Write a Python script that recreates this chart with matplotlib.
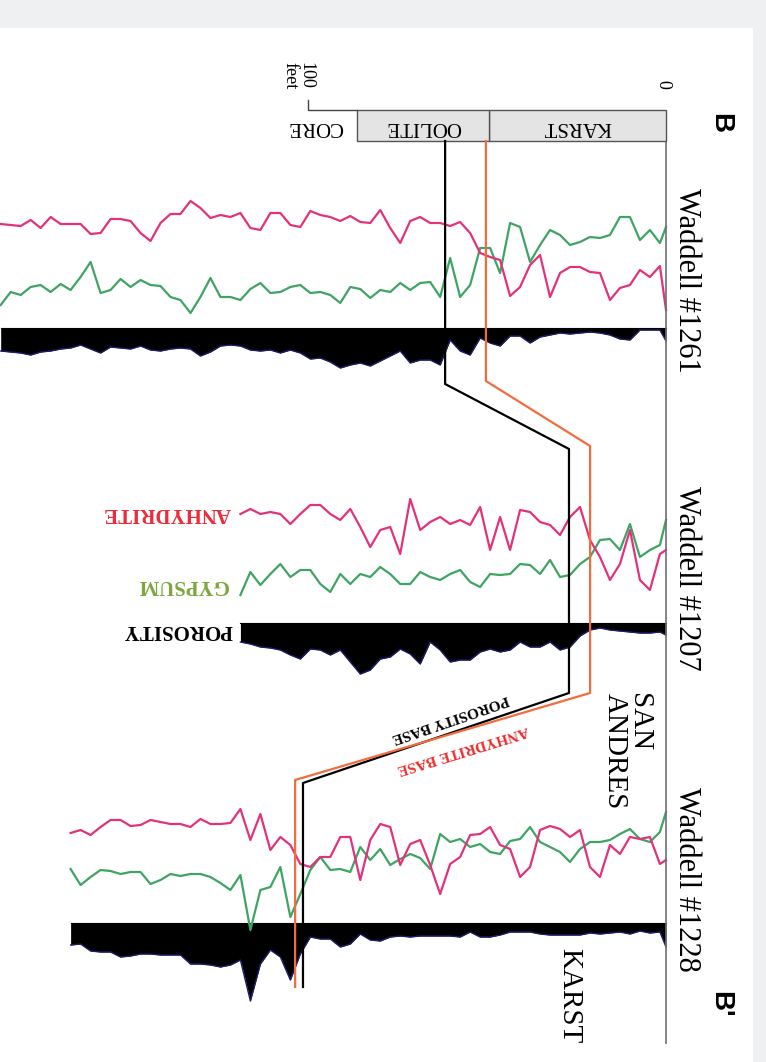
"""Waddell cross section B-B' (rotated log display)"""
import numpy as np
import matplotlib
matplotlib.use("Agg")
import matplotlib.pyplot as plt
from matplotlib.patches import Rectangle

# ---- data ---------------------------------------------------------------
# log samples, shallow -> deep; first sample at 0 ft, then every DEPTH_STEP ft
FIRST_DEPTH = 1.7
DEPTH_STEP = 2.79

WELLS = ["Waddell #1261", "Waddell #1207", "Waddell #1228"]

ANH_1261 = [18, 62, 51, 58, 43, 40, 28, 55, 56, 61, 61, 55, 31, 73, 63, 41, 32, 68, 71, 75,
            95, 106, 102, 105, 105, 111, 107, 85, 100, 118, 105, 106, 112, 107, 111, 113, 117,
            101, 103, 115, 115, 98, 100, 115, 111, 113, 110, 120, 127, 114, 114, 105, 87, 95,
            107, 109, 109, 95, 94, 104, 104, 104, 111, 100, 108, 102, 103, 104]
GYP_1261 = [101, 85, 98, 88, 111, 111, 93, 90, 91, 86, 83, 93, 98, 83, 66, 101, 105, 55, 80, 80,
            43, 31, 70, 31, 46, 45, 38, 45, 36, 38, 30, 39, 41, 25, 33, 36, 35, 43, 41, 36, 35,
            45, 39, 28, 31, 31, 50, 31, 15, 28, 31, 42, 43, 48, 41, 49, 38, 35, 66, 51, 38, 44,
            36, 43, 41, 33, 36, 23]
POR_1261 = [13, 2, 2, 2, 12, 11, 7, 5, 4, 5, 6, 5, 7, 9, 15, 8, 8, 18, 15, 10, 27, 23, 12, 37,
            32, 32, 35, 23, 28, 33, 38, 35, 37, 40, 34, 30, 31, 25, 22, 25, 22, 23, 22, 18, 17,
            18, 24, 28, 21, 20, 21, 23, 22, 18, 21, 20, 19, 25, 21, 17, 20, 21, 23, 24, 27, 25,
            24, 23]

ANH_1207 = [73, 69, 33, 43, 93, 59, 43, 66, 83, 116, 106, 88, 98, 101, 111, 113, 73, 106, 73,
            116, 98, 103, 99, 106, 101, 93, 124, 69, 96, 93, 76, 96, 114, 103, 109, 118, 118,
            109, 99, 109, 111, 109, 114, 109]
GYP_1207 = [103, 78, 73, 66, 99, 73, 84, 83, 66, 59, 48, 46, 63, 49, 58, 59, 49, 48, 49, 36,
            41, 53, 49, 43, 46, 51, 39, 39, 49, 56, 46, 49, 39, 49, 31, 39, 53, 53, 46, 59, 49,
            38, 51, 28]
POR_1207 = [12, 9, 10, 10, 9, 8, 7, 5, 7, 13, 24, 27, 19, 24, 24, 19, 27, 29, 26, 29, 37, 37,
            39, 27, 19, 41, 31, 26, 34, 36, 47, 51, 39, 27, 32, 27, 26, 36, 32, 27, 25, 24, 21,
            19]

ANH_1228 = [63, 59, 86, 84, 86, 69, 78, 46, 56, 93, 86, 94, 97, 93, 56, 46, 74, 78, 96, 89,
            88, 66, 59, 29, 58, 83, 79, 58, 96, 99, 83, 43, 86, 86, 66, 66, 56, 59, 78, 86, 73,
            109, 83, 114, 100, 99, 99, 104, 96, 99, 99, 101, 103, 98, 97, 103, 103, 96, 88, 93,
            90]
GYP_1228 = [111, 91, 81, 84, 94, 89, 83, 81, 81, 74, 61, 71, 76, 81, 96, 84, 82, 69, 71, 79,
            76, 84, 81, 89, 54, 65, 69, 64, 58, 74, 63, 76, 51, 54, 53, 66, 53, 29, 6, 56, 36,
            33, -7, 48, 33, 40, 46, 49, 49, 47, 49, 43, 39, 51, 51, 49, 52, 53, 46, 38, 54]
POR_1228 = [24, 9, 10, 8, 11, 9, 10, 11, 10, 12, 12, 12, 12, 11, 9, 9, 9, 12, 14, 14, 9, 14,
            13, 13, 13, 13, 14, 13, 14, 18, 17, 11, 21, 24, 16, 16, 14, 31, 57, 34, 27, 41, 78,
            37, 42, 44, 42, 41, 41, 32, 32, 32, 31, 31, 33, 34, 29, 29, 28, 21, 22]

# correlation picks (ft below datum) for each well
POROSITY_BASE = [61.7, 27.1, 101.4]
ANHYDRITE_BASE = [50.3, 21.2, 103.6]

# core description
CORE_UNITS = ["KARST", "OOLITE"]
CORE_TOPS = [0.0, 49.4]
CORE_BOTTOM = 86.3

# ---- layout (y in pixels, depth in feet) --------------------------------
BASE_Y = [328, 623, 923]          # porosity track baseline of each well
SECT_TOP = [141, 449, 783]
SECT_BOT = [384, 693, 987]
PINK = "#e2327c"
GREEN = "#3fa463"
ORANGE = "#f36c3d"
SERIF = "Liberation Serif"

fig = plt.figure(figsize=(7.66, 10.62), dpi=100)
fig.patch.set_facecolor("#eff0f2")
ax = fig.add_axes([0, 0, 1, 1])
ax.set_xlim(666 / 3.58, (666 - 766) / 3.58)
ax.set_ylim(1062, 0)
ax.axis("off")
ax.add_patch(Rectangle((0, 0), 753 / 766, 1 - 28 / 1062, transform=ax.transAxes,
                       facecolor="white", edgecolor="none", zorder=0))

logs = [(ANH_1261, GYP_1261, POR_1261), (ANH_1207, GYP_1207, POR_1207),
        (ANH_1228, GYP_1228, POR_1228)]

for i, (anh, gyp, por) in enumerate(logs):
    n = len(anh)
    depth = np.r_[0.0, FIRST_DEPTH + DEPTH_STEP * np.arange(n - 1)]
    y0 = BASE_Y[i]
    por_y = y0 + np.array(por)
    ax.fill_between(depth, y0, por_y, color="black", lw=0, zorder=2)
    ax.plot(depth, por_y, color="#1c1c6a", lw=1.0, zorder=2)
    ax.plot([0, depth[-1]], [y0, y0], color="black", lw=0.8, zorder=2)
    ax.plot(depth, y0 - np.array(gyp), color=GREEN, lw=1.6, zorder=3)
    ax.plot(depth, y0 - np.array(anh), color=PINK, lw=1.6, zorder=3)
    ax.text(-5.6, [280, 578, 879][i], WELLS[i], rotation=270, ha="center", va="center",
            fontsize=22, family=SERIF)

# well datum line
ax.plot([0, 0], [141, 1043], color="#6e6e6e", lw=1.2, zorder=4)

# correlation lines
for picks, col, yoff in [(POROSITY_BASE, "black", 0), (ANHYDRITE_BASE, ORANGE, -3)]:
    xs, ys = [], []
    for i, d in enumerate(picks):
        xs += [d, d]
        ys += [SECT_TOP[i] + (yoff if i else 0), SECT_BOT[i] + (yoff if i == 0 else 0)]
    ax.plot(xs, ys, color=col, lw=1.6, zorder=5)

# core box and scale
for top, unit, bot in zip(CORE_TOPS, CORE_UNITS, CORE_TOPS[1:] + [CORE_BOTTOM]):
    ax.add_patch(Rectangle((top, 110), bot - top, 31, facecolor="#e4e4e4",
                           edgecolor="#555555", lw=1, zorder=4))
    ax.text((top + bot) / 2, 126, unit, rotation=180, ha="center", va="center",
            fontsize=15, family=SERIF, zorder=6)
ax.text(98.0, 126, "CORE", rotation=180, ha="center", va="center", fontsize=15, family=SERIF)
ax.plot([CORE_BOTTOM, 100, 100], [110, 110, 100], color="#444444", lw=1, zorder=4)
ax.text(0.8, 84, "0", rotation=270, ha="center", va="center", fontsize=13, family=SERIF)
ax.text(102.8, 62, "100\nfeet", rotation=270, ha="center", va="top", fontsize=13,
        family=SERIF, linespacing=0.9)

# track labels
ax.text(139.4, 513, "ANHYDRITE", rotation=180, ha="center", va="center", fontsize=15,
        family=SERIF, weight="bold", color="#ec2a3a")
ax.text(134.9, 585, "GYPSUM", rotation=180, ha="center", va="center", fontsize=15,
        family=SERIF, weight="bold", color="#7da63d")
ax.text(136.3, 630, "POROSITY", rotation=180, ha="center", va="center", fontsize=15,
        family=SERIF, weight="bold", color="black")
ax.text(60.3, 718, "POROSITY BASE", rotation=199, ha="center", va="center", fontsize=11,
        family=SERIF, weight="bold", color="black", rotation_mode="anchor")
ax.text(56.7, 749, "ANHYDRITE BASE", rotation=197, ha="center", va="center", fontsize=11,
        family=SERIF, weight="bold", color="#ee2b2b", rotation_mode="anchor")

# formation names and section ends
ax.text(10.9, 693, "SAN\nANDRES", rotation=270, ha="center", va="top", fontsize=21,
        family=SERIF, multialignment="left", linespacing=0.95)
ax.text(27.1, 948, "KARST", rotation=270, ha="center", va="top", fontsize=21, family=SERIF)
ax.text(-15.1, 123, "B", rotation=270, ha="center", va="center", fontsize=20,
        family="Liberation Sans", weight="bold")
ax.text(-15.1, 1004, "B'", rotation=270, ha="center", va="center", fontsize=20,
        family="Liberation Sans", weight="bold")

fig.savefig("out.png", dpi=100, facecolor=fig.get_facecolor())
